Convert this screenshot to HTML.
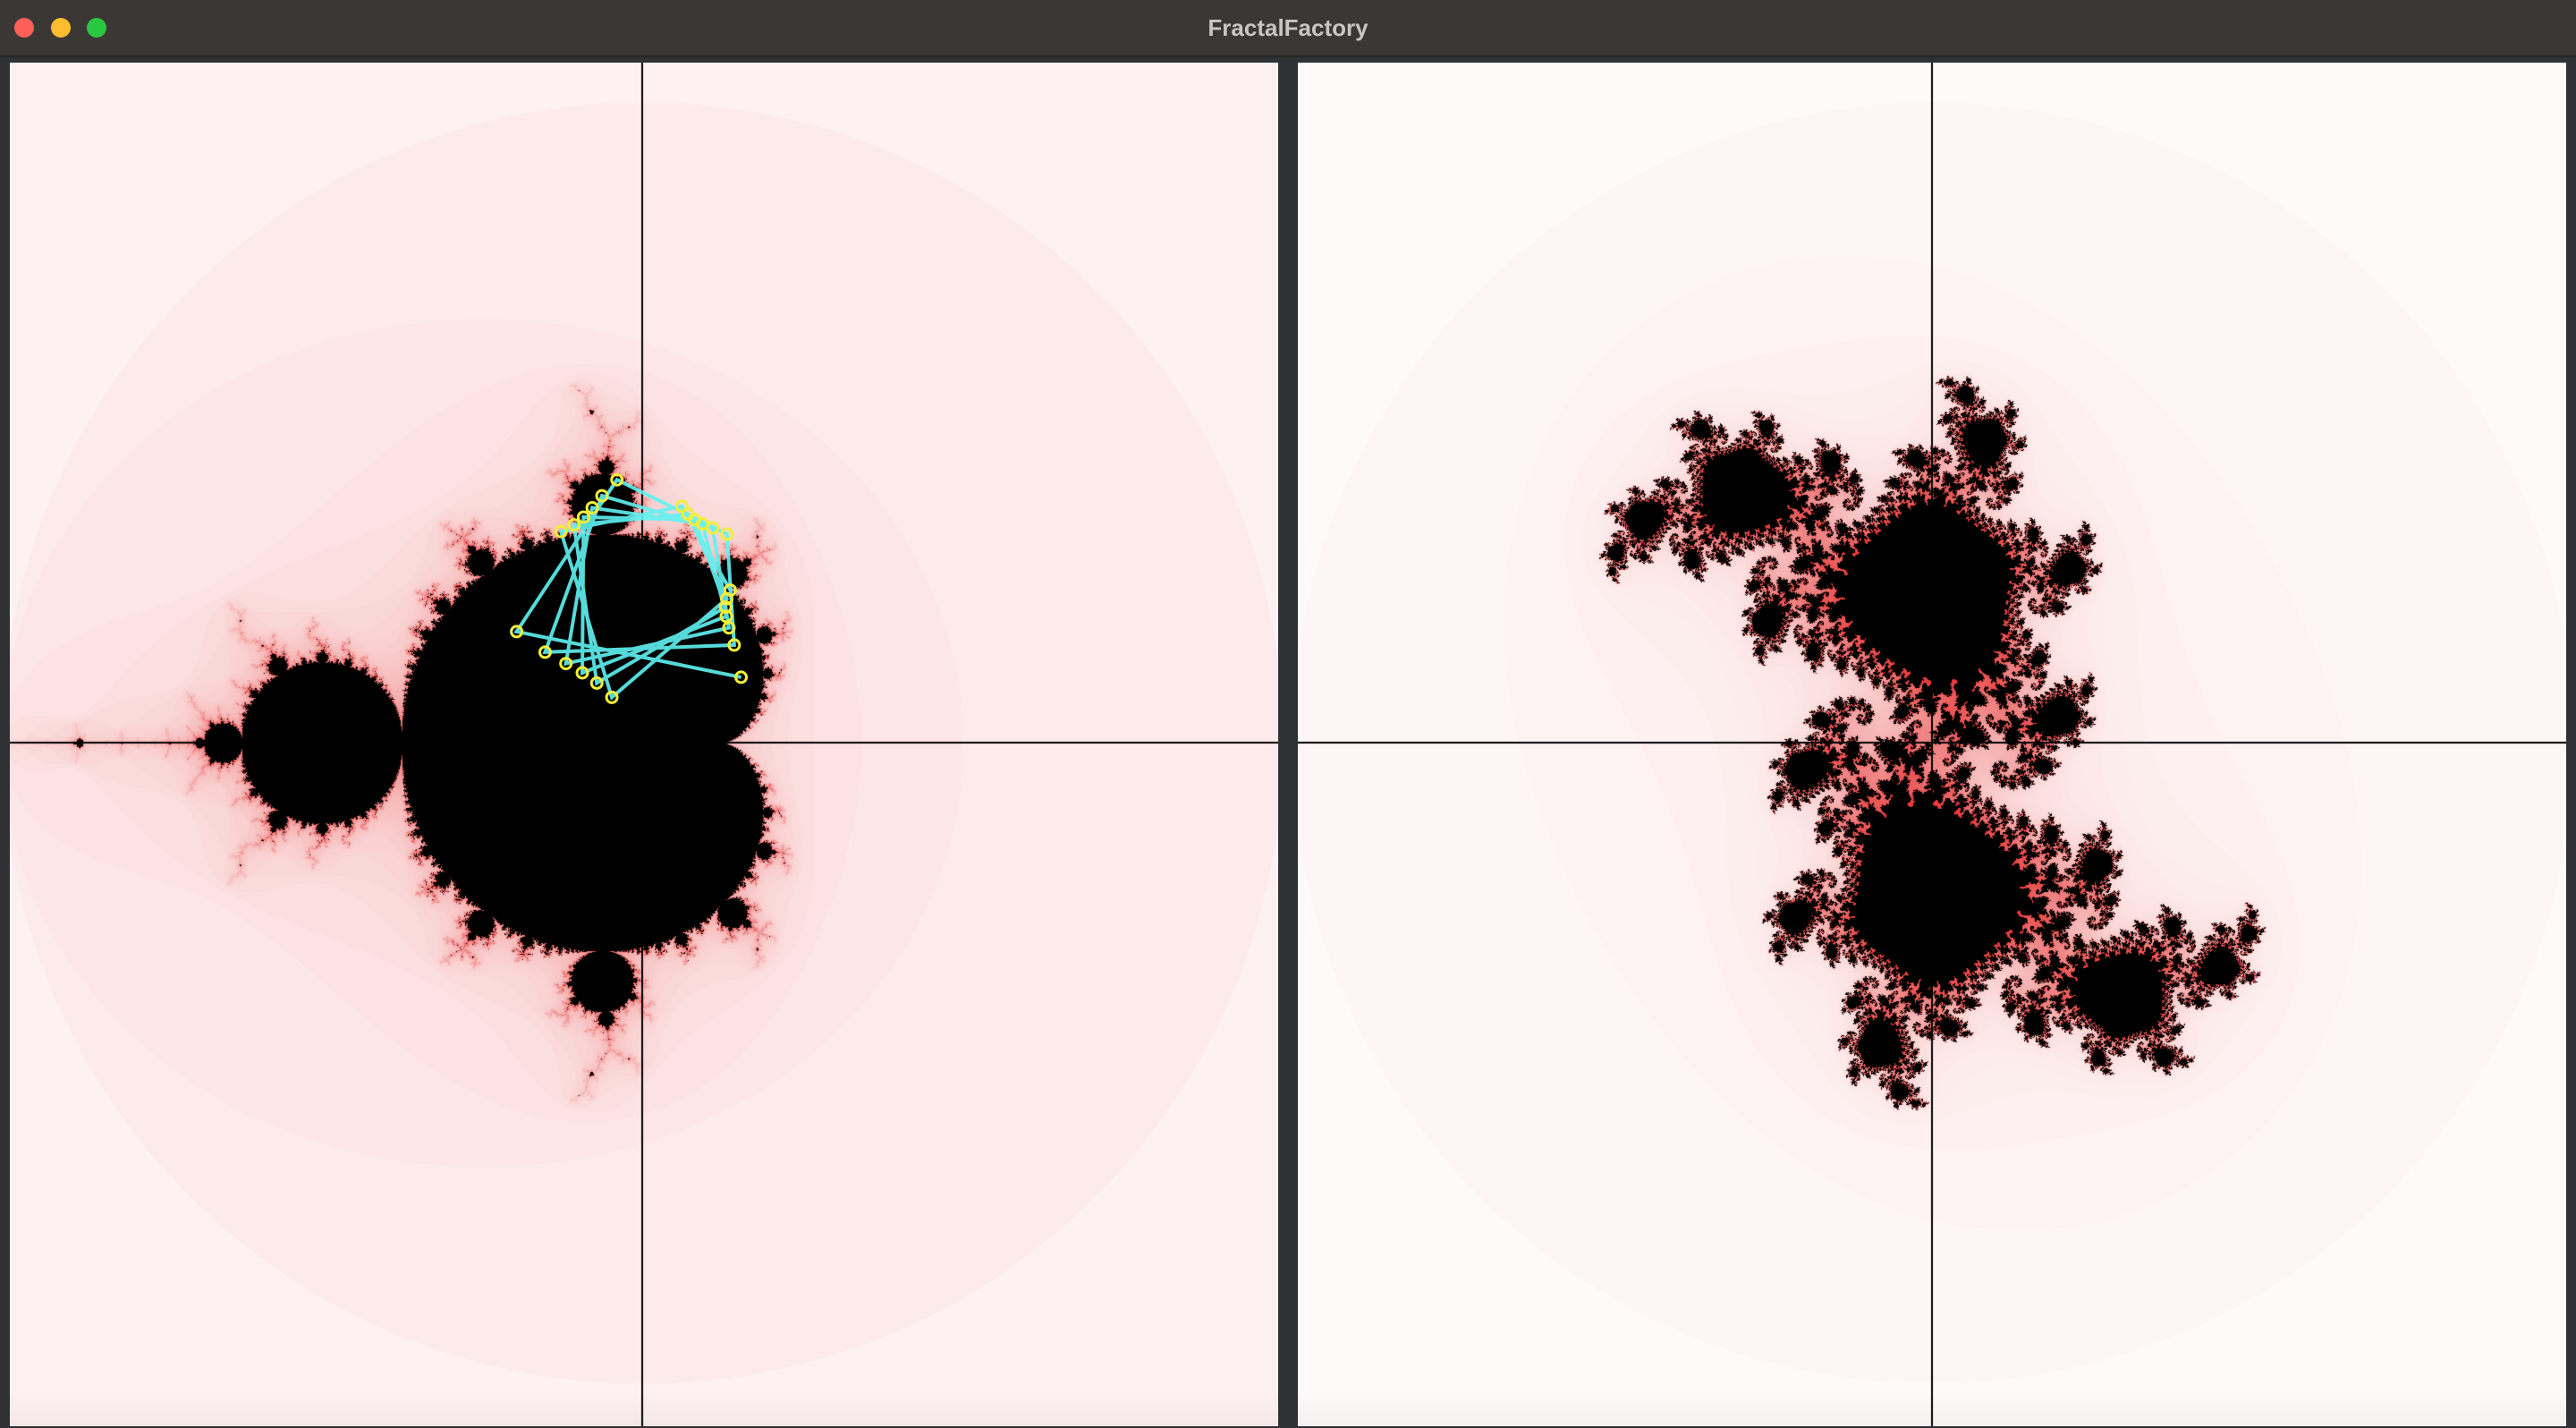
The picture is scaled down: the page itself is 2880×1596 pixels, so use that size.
<!DOCTYPE html>
<html><head><meta charset="utf-8"><style>
html,body{margin:0;padding:0;width:2880px;height:1596px;overflow:hidden;background:#2f3134;font-family:"Liberation Sans",sans-serif}
#titlebar{position:absolute;left:0;top:0;width:2880px;height:62px;background:#3b3735;border-bottom:2px solid #262626}
#title{position:absolute;width:100%;top:16px;text-align:center;color:#c9c5c3;font-weight:bold;font-size:26px}
.dot{position:absolute;top:20px;width:22px;height:22px;border-radius:50%}
canvas{position:absolute}
svg{position:absolute;left:0;top:0}
</style></head><body>
<div id="titlebar">
<div class="dot" style="left:16px;background:#fe5f57"></div>
<div class="dot" style="left:57px;background:#febc2e"></div>
<div class="dot" style="left:97px;background:#28c840"></div>
<div id="title">FractalFactory</div>
</div>
<canvas id="mand" width="1418" height="1524" style="left:11px;top:70px"></canvas>
<canvas id="jul" width="1418" height="1524" style="left:1451px;top:70px"></canvas>
<svg id="ov" width="2880" height="1596"></svg>
<script>
const juliaC = [0.275, 0.476];
const orbitStart = [0, 0];
const orbitSteps = 25;
const mandelMaxIter = 80;
const juliaMaxIter = 130;

const SCALE = 358;
const panelW = 1418, panelH = 1524, panelTop = 70;
const mOrigin = [718 - 11, 830 - panelTop];
const jOrigin = [2160 - 1451, 830 - panelTop];

function colorFor(n, max, p){
  const f = Math.pow(n / max, p);
  return [255 - f * 25, 250 - f * 195, 250 - f * 195];
}
function render(id, origin, max, julia){
  const cv = document.getElementById(id), ctx = cv.getContext('2d');
  const img = ctx.createImageData(panelW, panelH), d = img.data;
  const p = julia ? 0.8 : 0.7;
  for (let y = 0; y < panelH; y++){
    const im0 = (origin[1] - y) / SCALE;
    const shade = y > panelH - 40 ? (y - (panelH - 40)) / 40 * 10 : 0;
    for (let x = 0; x < panelW; x++){
      const re0 = (x - origin[0]) / SCALE;
      let zr, zi, cr, ci;
      if (julia){ zr = re0; zi = im0; cr = juliaC[0]; ci = juliaC[1]; }
      else { zr = 0; zi = 0; cr = re0; ci = im0; }
      let n = 0;
      while (n < max && zr*zr + zi*zi < 4){
        const t = zr*zr - zi*zi + cr; zi = 2*zr*zi + ci; zr = t; n++;
      }
      const k = (y * panelW + x) * 4;
      if (n >= max){ d[k] = d[k+1] = d[k+2] = 0; }
      else { const c = colorFor(n, max, p); d[k] = c[0]-shade; d[k+1] = c[1]-shade; d[k+2] = c[2]-shade; }
      d[k+3] = 255;
    }
  }
  ctx.putImageData(img, 0, 0);
  ctx.strokeStyle = '#000'; ctx.lineWidth = 2;
  ctx.beginPath(); ctx.moveTo(origin[0], 0); ctx.lineTo(origin[0], panelH);
  ctx.moveTo(0, origin[1]); ctx.lineTo(panelW, origin[1]); ctx.stroke();
}
render('mand', mOrigin, mandelMaxIter, false);
render('jul', jOrigin, juliaMaxIter, true);

const ns = 'http://www.w3.org/2000/svg';
const ov = document.getElementById('ov');
function px(re){ return 11 + mOrigin[0] + re * SCALE; }
function py(im){ return panelTop + mOrigin[1] - im * SCALE; }
let z = orbitStart.slice(), pts = [];
for (let i = 0; i < orbitSteps; i++){
  z = [z[0]*z[0] - z[1]*z[1] + juliaC[0], 2*z[0]*z[1] + juliaC[1]];
  if (z[0]*z[0] + z[1]*z[1] > 4) break;
  pts.push(z);
}
const pl = document.createElementNS(ns, 'polyline');
pl.setAttribute('points', pts.map(p => px(p[0]) + ',' + py(p[1])).join(' '));
pl.setAttribute('fill', 'none'); pl.setAttribute('stroke', '#5ff2f2');
pl.setAttribute('stroke-width', '4'); pl.setAttribute('stroke-opacity', '0.9');


ov.appendChild(pl);
pts.forEach(p => {
  const c = document.createElementNS(ns, 'circle');
  c.setAttribute('cx', px(p[0])); c.setAttribute('cy', py(p[1])); c.setAttribute('r', 6);
  c.setAttribute('fill', 'none'); c.setAttribute('stroke', '#f2ee3a'); c.setAttribute('stroke-width', '3');
  
  
  ov.appendChild(c);
});
</script>
</body></html>
